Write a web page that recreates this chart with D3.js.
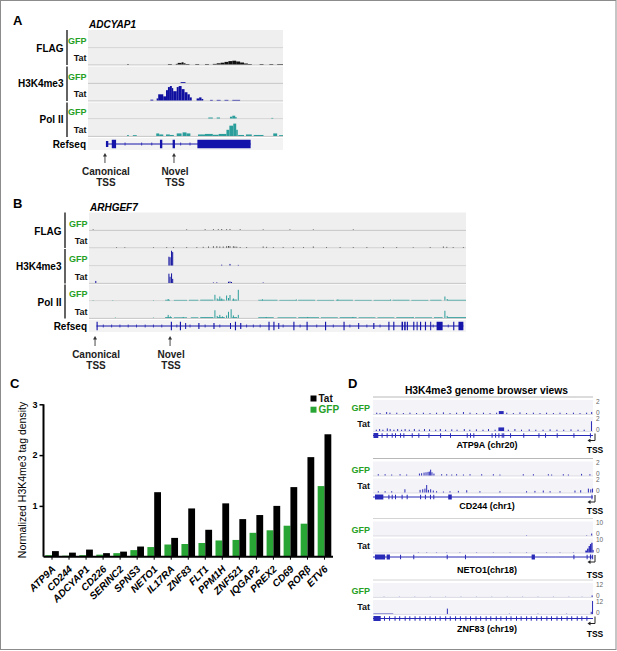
<!DOCTYPE html>
<html>
<head>
<meta charset="utf-8">
<script src="https://cdn.jsdelivr.net/npm/d3@7"></script>
<style>
body { margin: 0; background: #fff; }
svg { display: block; }
text { font-family: "Liberation Sans", Arial, Helvetica, sans-serif; }
</style>
</head>
<body>
<script>
// ---------- C: normalized H3K4me3 tag density ----------
var genes = ["ATP9A","CD244","ADCYAP1","CD226","SERINC2","SPNS3","NETO1","IL17RA","ZNF83","FLT1","PPM1H","ZNF521","IQGAP2","PREX2","CD69","RORβ","ETV6"];
var tatDensity = [0.11,0.08,0.14,0.07,0.10,0.20,1.27,0.37,0.95,0.53,1.05,0.74,0.82,1.00,1.37,1.96,2.41];
var gfpDensity = [0.03,0.02,0.03,0.04,0.07,0.13,0.19,0.24,0.25,0.27,0.32,0.33,0.47,0.52,0.61,0.65,1.39];
var densityTicks = [1,2,3];

// ---------- A: ADCYAP1 (window position 0-100), bins [from,to,signal], spikes [pos,signal] ----------
var flagGfpA = [];
var flagTatA = [[20,21,0.4],[41,43,0.5],[45,46,0.6],[46,48,1.6],[48,49,2.2],[49,50,1.2],[50,52,0.5],[55,57,0.5],[60,62,0.5],[64,66,0.6],[66,68,1.2],[68,70,1.8],[70,72,2.6],[72,74,3.4],[74,76,3.8],[76,78,3.0],[78,80,2.0],[80,82,1.0],[82,84,0.5],[88,90,0.5],[93,95,0.5],[97,100,0.5]];
var h3GfpA = [[47.5,50,0.8]];
var h3TatA = [[32,33.5,0.8],[35.2,36,2],[36,38.6,6],[38.6,40,4],[40,41,10],[41,42,13],[42,43,14],[43,43.7,12],[43.7,45.5,9],[45.5,46.5,13],[46.5,48,14],[48,49.5,11],[49.5,51,8],[51,52.2,6],[52.2,53.2,3],[55.7,57,2],[57,58.2,3],[58.2,59.1,1.5],[62.6,64,0.6],[66,68,0.6],[70,72,0.6],[74,78,0.6]];
var polGfpA = [[61.7,64,1],[66,67.7,1],[72.8,74,1.8],[74,75.5,2.8],[75.5,76.2,1.5],[94,95,0.6]];
var polTatA = [[20,21,0.8],[23,25,0.8],[35,36.5,2.5],[36.5,38.6,1.5],[40,42,1.5],[42,44,1],[45.5,48,2.5],[48.5,50.5,3.5],[50.5,52.5,2.5],[56.4,60,1.5],[60,64,2],[64,67,1.2],[67,71,2],[71,72.5,6],[72.5,74.5,10],[74.5,76,12],[76,76.8,6],[77,80,1],[81,84,1.5],[85,90,1],[95,97,2.5],[98,100,0.8]];
var geneA = {start: 9.2, end: 83.4};
var exonsA = [[9.2,10.4,0],[12.2,14.4,1],[36.9,38.1,1],[43.4,44.6,1],[56.1,83.4,1]];
var intronTicksA = [19,27.5,32.7,47.5,52.3];
var tssA = [{pos: 8.7, label: ["Canonical","TSS"]}, {pos: 44.1, label: ["Novel","TSS"]}];

// ---------- B: ARHGEF7 ----------
var flagGfpB = [[1.1,0.4],[25.9,0.4],[30.8,0.5],[33,0.5],[34.3,0.5],[35.2,0.6],[36.5,0.5],[37.4,0.6],[40.1,0.5],[46.2,0.4],[53.3,0.4],[59.5,0.4],[70.1,0.4]];
var flagTatB = [[7.3,0.4],[9.5,0.4],[17.1,0.4],[20.6,0.5],[22.4,0.5],[25.9,0.5],[28.6,0.5],[30.3,0.6],[31.7,0.8],[33,1],[33.9,1],[34.7,0.8],[35.6,0.8],[36.5,1],[37,1.2],[37.4,1],[38.3,1],[38.7,0.8],[39.2,0.7],[40.1,0.5],[41.8,0.5],[46.2,0.8],[47.1,0.6],[48.9,0.5],[51.5,0.5],[54.2,0.5],[56.9,0.5],[59.5,0.8],[63,0.5],[66.6,0.5],[70.1,0.5],[73.7,0.5],[78.1,0.5],[81.6,0.5],[86,0.4],[90.5,0.5],[94,0.8],[94.9,0.6],[96.6,0.5],[99.3,0.5]];
var h3GfpB = [[21.2,8.5],[21.5,8],[21.9,14.3],[22.2,13],[35.2,0.8],[37.4,1.5],[39.6,0.6]];
var h3TatB = [[1.8,2],[21.2,9],[21.5,6],[21.9,9.3],[22.2,4],[33,0.5],[33.9,0.6],[37,1.2],[37.4,1.5],[37.8,1],[46.2,0.5]];
var polFloorGfpB = [[20.2,21.5,0.7],[22.5,26,0.6],[26.5,29,0.7],[29.5,33,0.8],[34,36,0.9],[38,39.3,0.9],[44.9,50,0.7],[50.5,55,0.6],[55.5,60,0.7],[60.5,65,0.6],[65.5,70,0.7],[70.5,75,0.6],[75.5,80,0.6],[80.5,85,0.7],[85.5,90,0.6],[90.5,93.5,0.7],[95,100,0.7]];
var polGfpB = [[1.1,0.4],[6.3,0.4],[17.1,0.4],[21,1.5],[33.4,5.7],[34,2],[34.7,4],[35.2,2],[36.5,5],[37,2.5],[37.4,5.5],[38.3,2],[39.6,10.7],[46,1.2],[55,1],[66,1],[80,1],[94.4,4],[95,1.5]];
var polFloorTatB = [[20.2,22,0.8],[22.5,26,0.6],[27,29,0.6],[29.5,33,0.8],[34,36,0.8],[38,39.3,0.8],[44.9,49,0.7],[50,55,0.6],[55.5,61,0.7],[61.5,66,0.6],[66.5,71,0.7],[71.5,76,0.6],[76.5,81,0.6],[81.5,86,0.7],[86.5,91,0.6],[91.5,93.8,0.7],[95,100,0.8]];
var polTatB = [[7,0.4],[17.1,0.4],[21,3],[21.6,1.5],[25,1],[33.4,7.5],[34,2],[34.7,3],[35.4,1.5],[36.5,2.5],[37,6],[37.7,8.5],[38.3,2.5],[39.6,3],[47,1],[58,1],[70,1],[86,1],[94.4,7],[95,2]];
var geneB = {start: 2.0, end: 99.3};
var exonsB = [[2.0,2.3,1],[21.7,22.0,1],[24.1,24.4,1],[25.5,25.7,0],[29.0,29.3,0],[33.0,33.3,0],[37.4,37.6,0],[38.7,39.0,1],[40.1,40.4,0],[47.6,47.9,1],[48.9,49.2,1],[50.2,50.4,0],[54.2,54.5,1],[57.7,58.0,1],[62.6,62.9,1],[67.5,67.8,1],[71.4,71.6,0],[75.4,75.7,0],[79.4,79.7,1],[80.7,81.0,1],[82.9,83.3,1],[83.6,84.0,1],[84.3,84.6,1],[86.0,86.3,1],[86.9,87.1,1],[87.8,88.1,1],[89.1,89.4,1],[90.5,90.7,1],[92.2,93.8,1],[96.6,96.9,1],[98.0,99.3,1]];
var intronTicksB = [3.8,6,8.2,10.4,12.6,14.9,17.1,19.3,23.3,26.8,30.8,34.7,41.8,43.6,45.4,51.5,56,60.4,64.8,69.2,73.7,77.2,91.3,95.3];
var tssB = [{pos: 1.6, label: ["Canonical","TSS"]}, {pos: 21.5, label: ["Novel","TSS"]}];

// ---------- D: H3K4me3 genome browser views ----------
var atp9aGfp = [[1.7,.2],[3.2,.15],[6.2,.3],[7.7,.2],[10.8,.2],[13.8,.15],[16.8,.2],[19.8,.15],[22.9,.2],[25.9,.15],[28.9,.2],[32,.25],[35,.15],[38,.2],[41.1,.3],[44.1,.2],[47.1,.15],[50.2,.2],[53.2,.15],[56.2,.2],[60.8,.2],[63.8,.15],[66.8,.25],[69.8,.15],[72.9,.2],[75.9,.15],[78.9,.2],[82,.15],[85,.2],[88,.15],[91.1,.2],[94.1,.15],[97.1,.2],[99.4,.3]];
var atp9aGfpBins = [[57.2,59.4,0.45]];
var atp9aTat = [[1.5,.2],[3,.3],[4.5,.2],[6.5,.4],[7.8,.3],[9.5,.2],[11.2,.3],[13,.2],[14.6,.3],[16.5,.2],[18.8,.3],[21,.2],[23.4,.3],[25.7,.25],[28.5,.2],[30.6,.3],[33,.2],[35.8,.25],[38.2,.2],[41.5,.3],[44,.2],[47,.25],[50,.2],[52.5,.3],[55.5,.2],[61.5,.2],[64.5,.3],[67.5,.2],[71,.25],[74,.2],[77.3,.2],[80.5,.25],[83.6,.2],[86.7,.2],[90,.25],[93.2,.2],[96,.2],[99.3,1.5]];
var atp9aTatBins = [[57.0,59.6,0.55]];
var atp9aExons = [[0.2,2.4,1],[3.9,4.3,0],[6.2,6.6,0],[8.5,8.9,0],[10,10.4,0],[12.3,12.7,0],[13.8,14.2,0],[17.6,18,0],[20.6,21,0],[25.2,25.6,0],[30.5,30.9,0],[35,35.4,0],[42.6,43,0],[44.1,44.5,0],[45.6,46,0],[53.9,54.3,0],[55.5,55.9,0],[57,57.4,0],[58.5,58.9,0],[59.2,59.6,0],[62.3,62.7,0],[68.3,68.7,0],[75.2,75.6,0],[78.2,78.6,0],[83.5,83.9,0],[91.1,91.5,0],[98.6,99,0]];

var cd244Gfp = [[2.4,.2],[5.5,.2],[8.5,.15],[12.3,.2],[15.3,.15],[21.1,.3],[22.1,.35],[23.2,.45],[24.1,.5],[25,.55],[25.6,.6],[26.2,.9],[26.8,.5],[27.7,.3],[31.2,.2],[33.5,.2],[35.8,.15],[38,.2],[41.1,.15],[44.1,.2],[49.4,.2],[54.7,.2],[57.7,.15],[68.3,.2],[72.9,.2],[79.7,.2],[81.2,.15],[86.5,.2],[88.8,.15],[94.8,.25],[98.6,.2]];
var cd244Tat = [[2.4,.2],[5.5,.2],[8.5,.2],[14.5,.5],[21.4,.4],[22.6,.5],[23.6,.6],[24.4,1.15],[25.2,.4],[26.2,.5],[27.4,.3],[28.9,.2],[32,.15],[35,.2],[38.8,.25],[42.6,.35],[48.6,.2],[57.7,.2],[69.8,.2],[73.6,.25],[77.4,.3],[80.5,.2],[85,.2],[91.8,.3],[94.4,.35],[97.9,.6],[99,.5],[99.8,.6]];
var cd244Exons = [[0.9,4.7,1],[7,7.4,0],[8.5,8.9,0],[10,10.4,0],[13,13.4,0],[15.3,15.7,0],[21.4,21.8,0],[23.6,24,0],[25.9,26.3,0],[27.4,27.8,0],[34.2,35.8,1],[99.3,99.7,0]];

var neto1Gfp = [[69.8,.3],[97.1,.3],[99.4,1.5]];
var neto1Tat = [[20.6,.3],[24.4,.3],[28.9,.3],[33.5,.3],[39.5,.3],[47.1,.3],[54.7,.3],[62.3,.3],[69.8,.3],[78.9,.3],[85,.3],[91.1,.3]];
var neto1TatBins = [[96.5,97.3,1.5],[97.3,98,3],[98,98.6,5],[98.6,99.2,6.5],[99.2,99.8,7.5],[99.8,100.3,2]];
var neto1Exons = [[0.9,5.5,1],[6.2,7.7,1],[12.3,12.7,0],[18.3,18.7,0],[33.5,33.9,0],[41.8,42.2,0],[72.1,73.6,1],[91.1,91.5,0],[97.1,97.5,0],[98.6,99.2,1],[99.6,100,0]];

var znf83Gfp = [[5,.2],[12,.2],[19,.2],[26,.2],[33,.2],[40,.2],[47,.2],[54,.2],[61,.2],[68,.2],[75,.2],[82,.2],[89,.2],[95,.2],[99.6,1.5]];
var znf83Tat = [[33.8,5],[62,.3],[75,.3],[88,.3],[99.2,2],[99.8,12]];
var znf83TatBins = [[0.2,9.2,0.4]];
var znf83Exons = [[0.2,3.5,1],[5,5.3,0],[7.3,7.6,0],[9.8,10.1,0],[11.9,12.2,0],[14.4,14.7,0],[16.5,16.8,0],[18.9,19.2,0],[21.1,21.4,0],[23.6,23.9,0],[25.7,26,0],[28.2,28.5,0],[30.3,30.6,0],[32.8,33.1,0],[34.9,35.2,0],[37.3,37.6,0],[39.5,39.8,0],[42,42.3,0],[44.1,44.4,0],[46.6,46.9,0],[48.7,49,0],[51.2,51.5,0],[53.3,53.6,0],[55.8,56.1,0],[57.9,58.2,0],[60.4,60.7,0],[62.5,62.8,0],[65,65.3,0],[67.1,67.4,0],[69.6,69.9,0],[71.7,72,0],[74.2,74.5,0],[76.3,76.6,0],[78.8,79.1,0],[80.9,81.2,0],[83.4,83.7,0],[85.5,85.8,0],[88,88.3,0],[90.1,90.4,0],[92.6,92.9,0],[94.7,95,0],[97,97.3,0]];

var dGenes = ["ATP9A (chr20)","CD244 (chr1)","NETO1(chr18)","ZNF83 (chr19)"];
var dMax = [2, 2, 10, 12];

// ---------- drawing ----------
var GREEN_TXT = "#25a025", GREEN_BAR = "#29a535";
var BLUE = "#1010a0", TEAL = "#2b9e9b", REF = "#1414aa", DBLUE = "#2a2ab8";

var svg = d3.select("body").append("svg").attr("width", 617).attr("height", 651);
svg.append("rect").attr("x", 0.5).attr("y", 0.5).attr("width", 615.5).attr("height", 649)
  .attr("fill", "#fff").attr("stroke", "#8c8c8c").attr("stroke-width", 1);

function trackRow(g, x, r) {
  var x0 = x.range()[0], x1 = x.range()[1];
  var y = d3.scaleLinear().domain([0, r.max]).range([r.base, r.top + 1]);
  g.append("rect").attr("x", x0).attr("y", r.top).attr("width", x1 - x0).attr("height", r.base - r.top).attr("fill", r.bg);
  g.append("line").attr("x1", x0).attr("x2", x1).attr("y1", r.base + 0.4).attr("y2", r.base + 0.4)
    .attr("stroke", r.line).attr("stroke-width", 0.8);
  g.selectAll(null).data(r.bins || []).enter().append("rect")
    .attr("x", d => x(d[0])).attr("width", d => Math.max(0.8, x(d[1]) - x(d[0])))
    .attr("y", d => y(d[2])).attr("height", d => r.base - y(d[2])).attr("fill", r.color);
  g.selectAll(null).data(r.spikes || []).enter().append("rect")
    .attr("x", d => x(d[0]) - 0.5).attr("width", 1)
    .attr("y", d => y(d[1])).attr("height", d => r.base - y(d[1])).attr("fill", r.color);
}

function geneModel(g, x, yc, gene, exons, ticks, color, hThick, hThin) {
  g.append("line").attr("x1", x(gene.start)).attr("x2", x(gene.end)).attr("y1", yc).attr("y2", yc)
    .attr("stroke", color).attr("stroke-width", 1);
  g.selectAll(null).data(ticks).enter().append("line")
    .attr("x1", d => x(d)).attr("x2", d => x(d)).attr("y1", yc - 1.5).attr("y2", yc + 1.5)
    .attr("stroke", color).attr("stroke-width", 0.7);
  g.selectAll(null).data(exons).enter().append("rect")
    .attr("x", d => x(d[0])).attr("width", d => Math.max(1, x(d[1]) - x(d[0])))
    .attr("y", d => yc - (d[2] ? hThick : hThin) / 2).attr("height", d => d[2] ? hThick : hThin)
    .attr("fill", color);
}

function upArrow(g, cx, y0, y1) {
  g.append("line").attr("x1", cx).attr("x2", cx).attr("y1", y0 + 3).attr("y2", y1)
    .attr("stroke", "#333").attr("stroke-width", 0.9);
  g.append("path").attr("d", "M" + (cx - 2) + "," + (y0 + 3.5) + "L" + cx + "," + y0 + "L" + (cx + 2) + "," + (y0 + 3.5) + "Z")
    .attr("fill", "#333");
}

function browserPanel(p) {
  var g = svg.append("g");
  var x = d3.scaleLinear().domain([0, 100]).range(p.range);
  g.append("text").attr("x", p.letter[0]).attr("y", p.letter[1]).text(p.letter[2])
    .attr("font-size", 13).attr("font-weight", "bold");
  g.append("text").attr("x", p.range[0] + 1).attr("y", p.titleY).text(p.title)
    .attr("font-size", 10).attr("font-weight", "bold").attr("font-style", "italic");
  p.rows.forEach(function (r) {
    trackRow(g, x, r);
    g.append("text").attr("x", p.range[0] - 1.5).attr("y", r.base - 6.5).attr("dy", "0.35em")
      .attr("text-anchor", "end").attr("font-size", 9).attr("font-weight", "bold")
      .attr("fill", r.sample === "GFP" ? GREEN_TXT : "#111").text(r.sample);
  });
  p.groups.forEach(function (gr) {
    g.append("line").attr("x1", p.barX).attr("x2", p.barX).attr("y1", gr[1]).attr("y2", gr[2])
      .attr("stroke", "#222").attr("stroke-width", 1.4);
    g.append("text").attr("x", p.barX - 3.5).attr("y", gr[3]).attr("dy", "0.35em").attr("text-anchor", "end")
      .attr("font-size", 10).attr("font-weight", "bold").text(gr[0]);
  });
  g.append("rect").attr("x", p.range[0]).attr("y", p.refY - 6).attr("width", p.range[1] - p.range[0]).attr("height", 12)
    .attr("fill", "#f3f3f3");
  g.append("text").attr("x", p.range[0] - 2).attr("y", p.refY).attr("dy", "0.35em").attr("text-anchor", "end")
    .attr("font-size", 10).attr("font-weight", "bold").text("Refseq");
  geneModel(g, x, p.refY, p.gene, p.exons, p.ticks, REF, 8.5, 6);
  p.tss.forEach(function (t) {
    upArrow(g, x(t.pos), p.arrowY, p.arrowY + 10);
    t.label.forEach(function (s, i) {
      g.append("text").attr("x", x(t.pos) + 1).attr("y", p.arrowY + 18 + i * 11).attr("dy", "0.35em")
        .attr("text-anchor", "middle").attr("font-size", 10).attr("font-weight", "bold").attr("fill", "#222").text(s);
    });
  });
}

var bgA = "#efefef", lnA = "#b8b8b8";
browserPanel({
  letter: [13, 25, "A"], title: "ADCYAP1", titleY: 27.5, range: [88, 283], barX: 67,
  rows: [
    {sample: "GFP", top: 30, base: 47.5, max: 15, bins: flagGfpA, color: "#111", bg: bgA, line: lnA},
    {sample: "Tat", top: 48.5, base: 64.5, max: 15, bins: flagTatA, color: "#111", bg: bgA, line: lnA},
    {sample: "GFP", top: 66.5, base: 83, max: 15, bins: h3GfpA, color: BLUE, bg: bgA, line: lnA},
    {sample: "Tat", top: 84, base: 100.5, max: 15, bins: h3TatA, color: BLUE, bg: bgA, line: lnA},
    {sample: "GFP", top: 102.5, base: 118.5, max: 15, bins: polGfpA, color: TEAL, bg: bgA, line: lnA},
    {sample: "Tat", top: 119.5, base: 136, max: 15, bins: polTatA, color: TEAL, bg: bgA, line: lnA}
  ],
  groups: [["FLAG", 30, 65, 48], ["H3K4me3", 66.5, 101, 83.5], ["Pol II", 102.5, 137, 119]],
  refY: 144, gene: geneA, exons: exonsA, ticks: intronTicksA, tss: tssA, arrowY: 153
});

browserPanel({
  letter: [13, 208, "B"], title: "ARHGEF7", titleY: 211, range: [89, 466], barX: 65,
  rows: [
    {sample: "GFP", top: 212.5, base: 230, max: 15, spikes: flagGfpB, color: "#111", bg: bgA, line: lnA},
    {sample: "Tat", top: 231, base: 247.5, max: 15, spikes: flagTatB, color: "#111", bg: bgA, line: lnA},
    {sample: "GFP", top: 249, base: 265.5, max: 15, spikes: h3GfpB, color: BLUE, bg: bgA, line: lnA},
    {sample: "Tat", top: 266.5, base: 283, max: 15, spikes: h3TatB, color: BLUE, bg: bgA, line: lnA},
    {sample: "GFP", top: 284.5, base: 300.5, max: 15, bins: polFloorGfpB, spikes: polGfpB, color: TEAL, bg: bgA, line: lnA},
    {sample: "Tat", top: 301.5, base: 318, max: 15, bins: polFloorTatB, spikes: polTatB, color: TEAL, bg: bgA, line: lnA}
  ],
  groups: [["FLAG", 212.5, 248, 231], ["H3K4me3", 249, 283.5, 266.7], ["Pol II", 284.5, 318.5, 302]],
  refY: 326, gene: geneB, exons: exonsB, ticks: intronTicksB, tss: tssB, arrowY: 336
});

// ---------- C ----------
(function () {
  var g = svg.append("g");
  var x = d3.scaleBand().domain(genes).range([43.5, 333]).paddingInner(0.2).paddingOuter(0.1);
  var xs = d3.scaleBand().domain(["GFP", "Tat"]).range([0, x.bandwidth()]);
  var y = d3.scaleLinear().domain([0, 3]).range([556.7, 404.3]);
  g.append("text").attr("x", 10).attr("y", 388).text("C").attr("font-size", 13).attr("font-weight", "bold");

  g.selectAll(".gfp").data(genes).enter().append("rect")
    .attr("x", d => x(d) + xs("GFP")).attr("width", xs.bandwidth())
    .attr("y", (d, i) => y(gfpDensity[i])).attr("height", (d, i) => y(0) - y(gfpDensity[i]))
    .attr("fill", GREEN_BAR);
  g.selectAll(".tat").data(genes).enter().append("rect")
    .attr("x", d => x(d) + xs("Tat")).attr("width", xs.bandwidth())
    .attr("y", (d, i) => y(tatDensity[i])).attr("height", (d, i) => y(0) - y(tatDensity[i]))
    .attr("fill", "#000");

  var ya = g.append("g").attr("transform", "translate(43.5,0)")
    .call(d3.axisLeft(y).tickValues(densityTicks).tickSize(4).tickSizeOuter(0).tickFormat(d3.format("d")));
  ya.select(".domain").attr("stroke-width", 2).attr("d", "M0," + y(0) + "V" + y(3));
  ya.selectAll(".tick line").attr("stroke-width", 1.5);
  ya.selectAll("text").attr("font-size", 9).attr("font-weight", "bold").attr("font-family", null).attr("x", -6);

  var xa = g.append("g").attr("transform", "translate(0," + y(0) + ")")
    .call(d3.axisBottom(x).tickSize(3).tickSizeOuter(0));
  xa.select(".domain").attr("stroke-width", 2).attr("d", "M43.5,0H333");
  xa.selectAll("text").attr("font-size", 10).attr("font-weight", "bold").attr("font-style", "italic")
    .attr("font-family", null).attr("y", 0).attr("dy", 0)
    .attr("text-anchor", "end").attr("transform", "translate(4,13) rotate(-45)");

  g.append("text").attr("transform", "translate(22,480) rotate(-90)").attr("text-anchor", "middle")
    .attr("dy", "0.35em").attr("font-size", 10.5).text("Normalized H3K4me3 tag density");

  var leg = [["Tat", "#000", "#111", 398.5], ["GFP", GREEN_BAR, GREEN_TXT, 409.7]];
  leg.forEach(function (l) {
    g.append("rect").attr("x", 310.5).attr("y", l[3] - 3).attr("width", 6).attr("height", 6).attr("fill", l[1]);
    g.append("text").attr("x", 318.5).attr("y", l[3]).attr("dy", "0.35em").attr("font-size", 10)
      .attr("font-weight", "bold").attr("fill", l[2]).text(l[0]);
  });
})();

// ---------- D ----------
(function () {
  var g = svg.append("g");
  var x = d3.scaleLinear().domain([0, 100]).range([373, 593]);
  g.append("text").attr("x", 348).attr("y", 388).text("D").attr("font-size", 13).attr("font-weight", "bold");
  g.append("text").attr("x", 486.5).attr("y", 390).attr("dy", "0.35em").attr("text-anchor", "middle")
    .attr("font-size", 10.3).attr("font-weight", "bold").text("H3K4me3 genome browser views");

  var tops = [397, 458.5, 518.5, 580];
  var nameY = [444.5, 505.5, 569.5, 628.5];
  var gfpData = [[atp9aGfp, atp9aGfpBins], [cd244Gfp, []], [neto1Gfp, []], [znf83Gfp, []]];
  var tatData = [[atp9aTat, atp9aTatBins], [cd244Tat, []], [neto1Tat, neto1TatBins], [znf83Tat, znf83TatBins]];
  var exonData = [atp9aExons, cd244Exons, neto1Exons, znf83Exons];

  tops.forEach(function (T, k) {
    g.append("line").attr("x1", 373).attr("x2", 593).attr("y1", T).attr("y2", T)
      .attr("stroke", k < 2 ? "#b8b8b8" : "#d4d4d4").attr("stroke-width", 1);
    var rows = [
      {sample: "GFP", top: T + 3, base: T + 17, max: dMax[k], spikes: gfpData[k][0], bins: gfpData[k][1], color: DBLUE, bg: "#f4f4f8", line: "#d0d0dc"},
      {sample: "Tat", top: T + 20, base: T + 34, max: dMax[k], spikes: tatData[k][0], bins: tatData[k][1], color: DBLUE, bg: "#f4f4f8", line: "#d0d0dc"}
    ];
    rows.forEach(function (r, i) {
      trackRow(g, x, r);
      g.append("text").attr("x", 370).attr("y", T + (i ? 27 : 11)).attr("dy", "0.35em").attr("text-anchor", "end")
        .attr("font-size", 9).attr("font-weight", "bold").attr("fill", i ? "#111" : GREEN_TXT).text(r.sample);
      g.append("text").attr("x", 596).attr("y", r.top + 1.5).attr("dy", "0.35em").attr("font-size", 6.5)
        .attr("fill", "#666").text(dMax[k]);
      g.append("text").attr("x", 596).attr("y", r.base - 1.5).attr("dy", "0.35em").attr("font-size", 6.5)
        .attr("fill", "#666").text(0);
    });
    var gy = T + 38.5;
    geneModel(g, x, gy, {start: 0, end: 100}, exonData[k], [], DBLUE, 5, 4.5);
    g.append("text").attr("x", 487).attr("y", nameY[k]).attr("dy", "0.35em").attr("text-anchor", "middle")
      .attr("font-size", 9).attr("font-weight", "bold").text(dGenes[k]);
    var tx = x(100) + 2;
    g.append("path").attr("d", "M" + tx + "," + (gy - 2) + "V" + (gy + 5) + "H" + (tx - 5))
      .attr("fill", "none").attr("stroke", "#222").attr("stroke-width", 1);
    g.append("path").attr("d", "M" + (tx - 7.5) + "," + (gy + 5) + "l3,-2v4z").attr("fill", "#222");
    g.append("text").attr("x", tx).attr("y", nameY[k] + 6).attr("dy", "0.35em").attr("text-anchor", "middle")
      .attr("font-size", 8.5).attr("font-weight", "bold").text("TSS");
  });
})();
</script>
</body>
</html>
